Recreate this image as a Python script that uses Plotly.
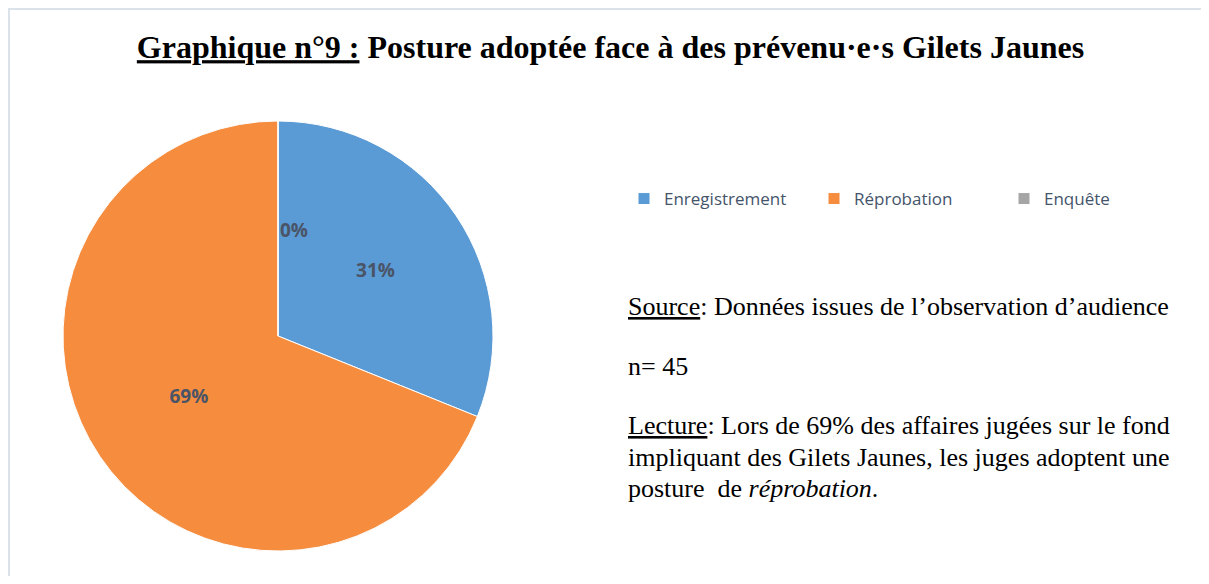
import plotly.graph_objects as go

labels = ["Enregistrement", "Réprobation", "Enquête"]
values = [14, 31, 0]  # n = 45
colors = ["#5B9BD5", "#F58C3E", "#A5A5A5"]

# the page adds an 8px body margin, so the figure is drawn 8px in from the window edge
W, H = 1193, 568
OFF = 8


def px(x):
    return (x - OFF) / W


def py(y):
    return 1 - (y - OFF) / H


fig = go.Figure(go.Pie(labels=labels,
                       values=values,
                       sort=False,
                       direction="clockwise",
                       rotation=0,
                       marker=dict(colors=colors, line=dict(color="white", width=1)),
                       texttemplate="<b>%{percent:.0%}</b>",
                       textposition="inside",
                       insidetextorientation="horizontal",
                       textfont=dict(family="Open Sans", size=19, color="#4A5466"),
                       domain=dict(x=[px(63), px(493)], y=[py(551), py(121)]),
                       hoverinfo="label+percent"))

# Plotly does not write a label for an empty slice: put the 0% of "Enquête" at the top
zero_pct = round(100 * values[2] / sum(values))
fig.add_annotation(x=px(278), y=py(230), xref="paper", yref="paper", showarrow=False,
                   text=f"<b>{zero_pct}%</b>",
                   font=dict(family="Open Sans", size=19, color="#4A5466"))

fig.update_layout(width=W, height=H,
                  margin=dict(l=0, r=0, t=0, b=0),
                  paper_bgcolor="white",
                  title=dict(text="<b><u>Graphique n°9 :</u> Posture adoptée face à des prévenu·e·s Gilets Jaunes</b>",
                             x=px(610.5), xanchor="center", y=py(47), yanchor="middle",
                             font=dict(family="Liberation Serif", size=32, color="black")),
                  showlegend=True,
                  legend=dict(orientation="h", x=px(624), y=py(199), yanchor="middle",
                              font=dict(family="Open Sans", size=17, color="#44546A"),
                              itemwidth=30, entrywidth=145))

body = dict(family="Liberation Serif", size=26, color="black")
lines = [(306, "<u>Source</u>: Données issues de l’observation d’audience"),
         (366, "n= 45"),
         (425, "<u>Lecture</u>: Lors de 69% des affaires jugées sur le fond"),
         (457, "impliquant des Gilets Jaunes, les juges adoptent une"),
         (488, "posture  de <i>réprobation</i>.")]
for y, t in lines:
    fig.add_annotation(x=px(626), y=py(y), xref="paper", yref="paper", xanchor="left", yanchor="middle",
                       showarrow=False, font=body, text=t)

fig.add_shape(type="rect", xref="paper", yref="paper",
              x0=1 / W, x1=1.02, y0=-0.02, y1=1 - 1 / H,
              line=dict(color="#DCE2EA", width=2))

fig.write_html("out.html")
